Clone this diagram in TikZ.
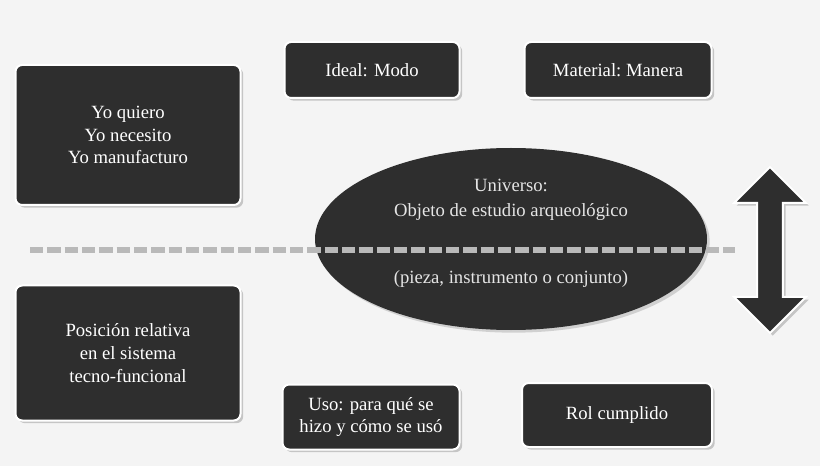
\documentclass[tikz,border=0pt]{standalone}
\usepackage{fontspec}
\setmainfont{Liberation Serif}
\usetikzlibrary{shapes.geometric,shapes.arrows,arrows.meta,shadows}
\definecolor{boxc}{HTML}{2E2E2E}
\definecolor{bgc}{HTML}{F4F4F4}
\tikzset{
  bx/.style={draw=white,line width=1.5pt,fill=boxc,rounded corners=5pt,text=white,align=center,font=\fontsize{14}{17}\selectfont,drop shadow={opacity=0.4,shadow xshift=2pt,shadow yshift=-2pt}},
  blk/.style={draw=none,line width=13pt,color=boxc!85!black,-{Triangle[width=26pt,length=16pt]}},
}
\begin{document}
\begin{tikzpicture}[x=0.75pt,y=-0.75pt]
\fill[bgc] (0,0) rectangle (820,466);
\useasboundingbox (0,0) rectangle (820,466);
\node[bx,minimum width=225*0.75pt,minimum height=140*0.75pt] (yo) at (128,135) {Yo quiero\\Yo necesito\\Yo manufacturo};
\node[bx,minimum width=225*0.75pt,minimum height=135*0.75pt] (pos) at (128,353) {Posición relativa\\en el sistema\\tecno-funcional};
\node[bx,minimum width=175*0.75pt,minimum height=56*0.75pt] (ideal) at (372,70) {Ideal: Modo};
\node[bx,minimum width=187*0.75pt,minimum height=56*0.75pt] (mat) at (618,70) {Material:\ Manera};
\node[bx,minimum width=177*0.75pt,minimum height=65*0.75pt] (uso) at (371,417) {Uso: para qué se\\hizo y cómo se usó};
\node[bx,minimum width=190*0.75pt,minimum height=64*0.75pt] (rol) at (617,415) {Rol cumplido};
\node[ellipse,fill=boxc,minimum width=392*0.75pt,minimum height=182*0.75pt,drop shadow={opacity=0.3,shadow xshift=2pt,shadow yshift=-2pt}] (uni) at (511,239) {};
\node[text=white!90!black,align=center,font=\fontsize{14}{19}\selectfont] (t1) at (511,200) {Universo:\\Objeto de estudio arqueológico};
\node[text=white!90!black,font=\fontsize{14}{17}\selectfont] (t2) at (511,279) {(pieza, instrumento o conjunto)};
\coordinate (dl) at (30,250);
\coordinate (dr) at (735,250);
\draw[line width=4.5pt,color=gray!55,dash pattern=on 10pt off 3pt] (dl) -- (dr);
\node[double arrow,shape border rotate=90,fill=boxc,draw=white,line width=1.5pt,minimum width=72*0.75pt,minimum height=166*0.75pt,double arrow head extend=12pt,inner sep=6pt,drop shadow={opacity=0.4,shadow xshift=2pt,shadow yshift=-2pt}] (da) at (770,250) {};
\coordinate (a1s) at (398,100); \coordinate (a1e) at (446,150);
\coordinate (a2s) at (612,100); \coordinate (a2e) at (574,150);
\coordinate (a3s) at (402,385); \coordinate (a3e) at (447,330);
\coordinate (a4s) at (612,385); \coordinate (a4e) at (575,330);
\draw[blk] (a1s) -- (a1e);
\draw[blk] (a2s) -- (a2e);
\draw[blk] (a3s) -- (a3e);
\draw[blk] (a4s) -- (a4e);
\end{tikzpicture}
\end{document}
